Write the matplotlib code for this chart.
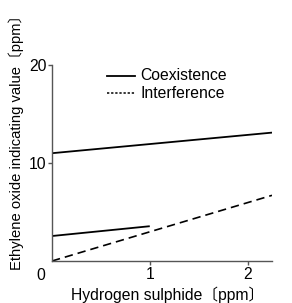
import matplotlib
matplotlib.use("Agg")
import matplotlib.pyplot as plt

FAM = ['Liberation Sans', 'Noto Sans CJK JP', 'DejaVu Sans']
plt.rcParams['font.family'] = FAM

# data
coex_high_x = [0.0, 2.25]
coex_high_y = [11.0, 13.1]
coex_low_x = [0.0, 1.0]
coex_low_y = [2.55, 3.55]
interf_x = [0.0, 2.25]
interf_y = [0.0, 6.7]
xticks = [1, 2]
yticks = [10, 20]

W, H = 292, 303
fig = plt.figure(figsize=(W/100, H/100), dpi=100)
ax = fig.add_axes([52/W, 1-261/H, 220/W, 196/H])
ax.set_xlim(0, 2.25)
ax.set_ylim(0, 20)

ax.plot(coex_high_x, coex_high_y, color='black', lw=1.3, solid_capstyle='butt')
ax.plot(coex_low_x, coex_low_y, color='black', lw=1.3, solid_capstyle='butt')
ax.plot(interf_x, interf_y, color='black', lw=1.2, dashes=(5, 3))

for s in ['top', 'right']:
    ax.spines[s].set_visible(False)
for s in ['left', 'bottom']:
    ax.spines[s].set_color('#555555')
    ax.spines[s].set_linewidth(1.0)

ax.set_xticks(xticks)
ax.set_yticks(yticks)
ax.tick_params(axis='both', length=3, width=1.0, color='#555555', labelsize=11.3, pad=1)
fig.text(41/W, 1-276/H, '0', fontsize=11.3, ha='center', va='center')

# legend
ax.plot([0.56, 0.845], [18.9, 18.9], color='black', lw=1.3, clip_on=False)
ax.plot([0.56, 0.845], [17.1, 17.1], color='black', lw=1.1, ls=(0, (1.5, 1.2)), clip_on=False)
ax.text(0.90, 18.9, 'Coexistence', fontsize=11.3, va='center', ha='left')
ax.text(0.90, 17.1, 'Interference', fontsize=11.3, va='center', ha='left')

fig.text(16/W, 1-139/H, 'Ethylene oxide indicating value〔ppm〕', rotation=90,
         fontsize=10.6, ha='center', va='center')
fig.text(168/W, 1-295/H, 'Hydrogen sulphide〔ppm〕', fontsize=11.3, ha='center', va='center')

fig.savefig('out.png', dpi=100)
